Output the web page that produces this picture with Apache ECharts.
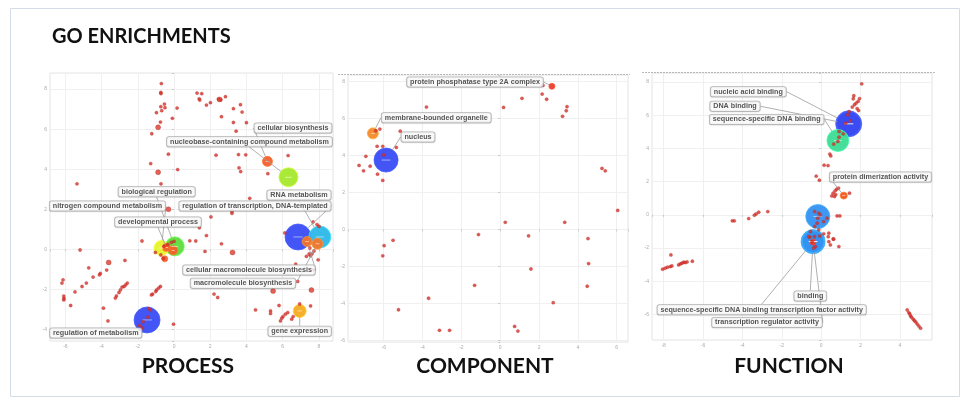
<!DOCTYPE html>
<html>
<head>
<meta charset="utf-8">
<script src="https://cdn.jsdelivr.net/npm/echarts@6.0.0/dist/echarts.min.js"></script>
<style>
  html, body { margin: 0; padding: 0; background: #fff; }
  #main { width: 961px; height: 399px; }
</style>
</head>
<body>
<div id="main"></div>
<script>
// ---- data: PROCESS ----
const processDots = [
  [-0.70, 8.27], [-0.73, 7.83], [-0.72, 7.77], [-0.97, 6.82], [-0.73, 7.12], [-0.53, 7.25], [-0.50, 7.07], [-0.68, 6.92],
  [0.17, 7.05], [-0.09, 6.54], [-0.75, 6.35], [-1.23, 5.77],
  [1.27, 7.80], [1.53, 7.77], [1.39, 7.51], [1.42, 7.45], [2.01, 7.32], [1.79, 7.20], [2.45, 7.50], [2.58, 7.46],
  [2.84, 7.62], [3.67, 7.22], [3.28, 7.02], [3.76, 6.85], [2.62, 6.62], [3.28, 6.33], [4.0, 6.32], [3.43, 5.90],
  [-0.31, 4.75], [2.32, 4.70], [3.56, 4.73], [3.96, 4.72], [-1.29, 4.28], [0.20, 3.98], [3.59, 4.07], [3.68, 3.88],
  [6.30, 4.68], [5.18, 3.78], [-5.36, 3.27], [-0.72, 3.27], [4.18, 2.55],
  [3.2, 1.9], [3.2, 1.8], [2.04, 1.62], [1.40, 1.08], [1.79, 0.69], [0.87, 0.43], [1.2, 0.42], [-1.77, 0.42],
  [2.62, 0.28], [1.71, -0.1], [-5.19, -0.03],
  [-1.03, -0.15], [-0.73, -0.28], [-0.6, -0.45], [-0.35, 0.25], [-0.15, 0.35], [0.0, 0.4], [-0.55, 0.15],
  [-2.71, -0.55], [-4.71, -0.92], [-3.72, -1.03], [-4.07, -1.2], [-4.12, -1.27], [-4.47, -1.38], [-4.84, -1.68],
  [-5.08, -1.85], [-5.47, -2.12], [-6.13, -1.52], [-6.19, -1.68], [-6.09, -2.33], [-6.08, -2.45], [-6.09, -2.52], [-5.71, -2.8],
  [-2.58, -1.68], [-2.67, -1.77], [-2.76, -1.85], [-2.87, -1.88], [-2.96, -2.02], [-3.04, -2.15], [-3.18, -2.32], [-3.24, -2.43],
  [-0.75, -1.85], [-0.85, -1.93], [-0.96, -2.02], [-1.01, -2.1], [-1.18, -2.23], [-1.25, -2.27],
  [-3.9, -2.93], [-3.65, -3.57], [-0.03, -3.73], [2.21, -2.23], [2.41, -2.4],
  [-1.3, -3.02], [-1.4, -2.95], [-1.44, -3.38], [-1.71, -3.6], [-1.9, -3.8], [-1.75, -3.93],
  [6.12, 0.82], [7.68, 1.37], [7.9, 1.24], [8.01, 1.15], [7.73, -0.08], [7.62, -0.22], [7.54, -0.32], [7.5, 0.07],
  [7.46, -0.23], [7.31, -0.35], [7.96, -0.52], [6.72, -0.73], [7.72, -1.02], [6.83, -1.6],
  [4.5, -3.02], [5.33, -3.07], [5.33, -3.2], [5.8, -2.8], [6.28, -3.15], [6.15, -3.23], [6.02, -3.35], [5.95, -3.43],
  [5.88, -3.57], [6.5, -3.48], [6.58, -3.35], [7.54, -2.82], [6.94, -2.72]
];
const processDotsLarge = [[-0.88, 6.09], [-0.88, 3.85], [2.52, 7.48], [-0.31, 2.0], [3.23, -0.15], [-3.61, -0.65], [7.59, -2.03], [5.47, -2.08]];
const processTerms = [
  'cellular biosynthesis', 'nucleobase-containing compound metabolism', 'RNA metabolism',
  'regulation of transcription, DNA-templated', 'cellular macromolecule biosynthesis', 'macromolecule biosynthesis',
  'nitrogen compound metabolism', 'biological regulation', 'developmental process', '', '',
  'regulation of metabolism', 'gene expression'
];
// x, y, term size
const processBubbles = [
  [5.16, 4.39, 21], [6.32, 3.6, 75], [8.05, 0.62, 100], [6.85, 0.62, 140], [7.35, 0.39, 21], [7.92, 0.28, 25],
  [-0.70, 0.07, 46], [0.04, 0.15, 75], [-0.42, 0.1, 13], [-0.05, -0.05, 17], [-0.51, -0.47, 7.4],
  [-1.49, -3.52, 140], [6.94, -3.07, 35]
];

// ---- data: COMPONENT ----
const componentDots = [
  [2.2, 7.78], [2.16, 7.31], [2.39, 7.03], [1.12, 7.08], [0.17, 6.59], [-3.8, 6.61], [3.44, 6.63], [3.4, 6.41], [3.21, 6.11],
  [5.24, 3.3], [5.41, 3.17], [6.05, 1.03], [0.26, 0.39], [3.32, 0.39], [-6.41, 5.33], [-6.2, 5.42], [-5.15, 5.31],
  [-6.0, 4.03], [-6.34, 4.49], [-6.05, 4.49], [-5.35, 4.43], [-6.92, 3.95], [-7.27, 3.46], [-7.04, 3.17], [-6.7, 3.42],
  [-6.32, 2.99], [-6.05, 2.65], [-1.12, -0.27], [1.46, -0.34], [4.52, -0.49], [-5.52, -0.58], [-5.98, -0.87], [-6.05, -1.42],
  [4.55, -1.84], [1.58, -2.13], [-1.32, -3.01], [4.48, -3.06], [-3.69, -3.71], [2.73, -3.95], [-5.24, -4.33],
  [-3.13, -5.44], [-2.61, -5.44], [0.74, -5.23], [0.91, -5.48]
];
const componentTerms = ['protein phosphatase type 2A complex', 'membrane-bounded organelle', 'nucleus'];
const componentBubbles = [[2.66, 7.73, 7.4], [-6.56, 5.19, 25], [-5.88, 3.75, 120]];

// ---- data: FUNCTION ----
const functionDots = [
  [2.06, 7.89], [1.66, 7.17], [1.63, 6.99], [1.95, 7.0], [1.88, 6.83], [1.78, 6.73], [1.69, 6.63], [1.58, 6.49], [1.83, 6.4],
  [1.9, 6.28], [1.42, 6.22], [1.35, 6.02], [1.49, 5.66], [1.24, 5.52], [0.91, 5.02], [1.12, 4.88], [0.91, 4.68], [0.64, 4.26],
  [0.85, 4.42], [0.44, 3.66], [0.49, 3.55], [0.15, 2.99], [0.35, 2.97], [-0.25, 2.33], [-0.09, 2.09], [0.88, 1.61], [0.79, 1.55],
  [0.71, 1.45], [0.61, 1.31], [0.54, 1.14], [0.68, 1.1], [0.74, 1.22], [1.44, 1.31], [0.81, -0.06], [0.95, -0.06],
  [-2.71, 0.2], [-3.17, 0.16], [-3.3, 0.06], [-3.39, -0.02], [-3.68, -0.22], [-4.51, -0.36], [-4.41, -0.36],
  [-0.33, 0.2], [-0.12, 0.1], [-0.04, 0.0], [-0.17, -0.2], [-0.2, -0.5], [0.13, -0.4], [0.3, -0.2], [-0.33, -0.7],
  [-0.12, -0.9], [0.39, -1.1], [-0.54, -1.0],
  [-0.58, -1.34], [-0.34, -1.31], [-0.07, -1.27], [0.13, -1.14], [0.39, -1.61], [0.47, -1.81], [0.61, -1.45], [0.36, -1.31],
  [0.9, -1.91], [-0.29, -1.91], [-0.46, -1.61], [-0.63, -1.31], [-0.38, -2.0], [0.64, -1.46],
  [-7.63, -2.41], [-8.05, -3.27], [-7.92, -3.21], [-7.8, -3.15], [-7.66, -3.11], [-7.58, -3.07], [-7.24, -3.01], [-7.15, -2.95],
  [-7.07, -2.91], [-6.98, -2.85], [-6.9, -2.87], [-6.81, -2.83], [-6.54, -2.79],
  [4.37, -5.72], [4.45, -5.88], [4.5, -5.96], [4.54, -6.08], [4.59, -6.16], [4.68, -6.28], [4.74, -6.37], [4.81, -6.45],
  [4.88, -6.57], [4.96, -6.69], [5.05, -6.82]
];
const functionTerms = [
  'nucleic acid binding', 'DNA binding', 'sequence-specific DNA binding', 'protein dimerization activity', '',
  'binding', 'sequence-specific DNA binding transcription factor activity', 'transcription regulator activity', ''
];
const functionBubbles = [
  [1.4, 5.48, 140], [1.4, 5.48, 120], [0.85, 4.48, 100], [1.15, 1.16, 10], [-0.17, -0.1, 120],
  [-0.41, -1.61, 120], [-0.41, -1.61, 110], [-0.41, -1.61, 100], [-0.41, -1.64, 7.4]
];

// ---- styles / layout ----
const processColors = ['#f4602a', '#a5e82c', '#2cb8e8', '#3a4cf4', '#f4762a', '#f4762a', '#e6f22c', '#5ddc3e', '#f4602a', '#f4602a', '#ef5a2c', '#3a4cf4', '#f5aa22'];
const componentColors = ['#e8402a', '#f58a2c', '#3a4cf4'];
const functionColors = ['#3a4cf0', '#3a4cf0', '#3ddc94', '#f0561e', '#3492f2', '#3492f2', '#3492f2', '#3492f2', '#e8382a'];
// label box centres (px)
const processLabelAt = [[293, 128], [249.5, 141.7], [299, 195], [255, 206], [249, 270], [243, 283.3], [107.5, 206], [156.7, 191.7], [158, 222], null, null, [95.8, 333], [299.7, 331.3]];
const componentLabelAt = [[475, 82], [436.3, 117.7], [418, 137]];
const functionLabelAt = [[748.3, 91.7], [735, 106.3], [766.7, 119.5], [880.5, 177], null, [810.3, 296], [761.7, 309.7], [767, 322.5], null];

const panels = [
  { grid: { left: 50, top: 73, width: 283, height: 268 }, x: [-6.85, 8.78], y: [-4.57, 8.8] },
  { grid: { left: 348, top: 75, width: 280, height: 267 }, x: [-7.84, 6.58], y: [-6.07, 8.34] },
  { grid: { left: 652, top: 73, width: 280, height: 267 }, x: [-8.59, 5.63], y: [-7.53, 8.54] }
];

const bubbleSize = (v) => 2.2 * Math.sqrt(v[2]);
const evenLabel = (v) => {
  const r = Math.round(v);
  return Math.abs(r - v) < 1e-6 && r % 2 === 0 ? String(r) : '';
};

function makeAxis(i, ext) {
  return {
    type: 'value', gridIndex: i, min: ext[0], max: ext[1], splitNumber: 7,
    axisLine: { show: false },
    axisTick: { show: true, length: 2, lineStyle: { color: '#c8c8c8' } },
    axisLabel: { fontSize: 5, color: '#aaa', margin: 3, formatter: evenLabel },
    splitLine: { show: true, lineStyle: { color: '#f0f0f0', width: 1 } }
  };
}

function panelSeries(i, bubbles, colors, terms, labelAt, dots, dotsLarge) {
  const order = bubbles.map((b, k) => k).sort((a, b) => bubbles[b][2] - bubbles[a][2]);
  const labeled = bubbles.map((b, k) => k).filter((k) => terms[k]);
  return [
    {
      type: 'scatter', xAxisIndex: i, yAxisIndex: i, z: 2, silent: true,
      symbolSize: bubbleSize,
      data: order.map((k) => ({
        value: bubbles[k],
        itemStyle: { color: colors[k], borderColor: echarts.color.lift(colors[k], -0.25), borderWidth: 0.8, opacity: 0.95 }
      }))
    },
    {
      // small white dash at each bubble centre
      type: 'scatter', xAxisIndex: i, yAxisIndex: i, z: 2, silent: true,
      symbol: 'rect',
      symbolSize: (v) => [Math.max(3, 0.8 * Math.sqrt(v[2])), 0.8],
      itemStyle: { color: 'rgba(255,255,255,0.8)' },
      data: bubbles.filter((b) => b[2] >= 10)
    },
    {
      type: 'scatter', xAxisIndex: i, yAxisIndex: i, z: 3, silent: true,
      symbolSize: 3.3, data: dots,
      itemStyle: { color: '#d8312a', borderColor: '#a51e18', borderWidth: 0.3 }
    },
    {
      type: 'scatter', xAxisIndex: i, yAxisIndex: i, z: 3, silent: true,
      symbolSize: 5, data: dotsLarge,
      itemStyle: { color: '#dd3a2c', borderColor: '#a51e18', borderWidth: 0.4 }
    },
    {
      // transparent copies of the bubbles that carry the term labels
      type: 'scatter', xAxisIndex: i, yAxisIndex: i, z: 5, silent: true,
      symbolSize: bubbleSize,
      itemStyle: { color: 'rgba(0,0,0,0)' },
      data: labeled.map((k) => ({ name: terms[k], value: bubbles[k] })),
      label: {
        show: true, formatter: '{b}',
        fontFamily: 'Liberation Sans, Arial, sans-serif', fontWeight: 'bold', fontSize: 7.2, color: '#2b2b2b',
        backgroundColor: '#fff', borderColor: '#a8a8a8', borderWidth: 0.8, borderRadius: 2,
        padding: [1.4, 3, 1, 3],
        shadowColor: 'rgba(0,0,0,0.15)', shadowBlur: 1.5, shadowOffsetY: 0.5
      },
      labelLine: { show: true, lineStyle: { color: '#9c9c9c', width: 0.8 } },
      labelLayout: (p) => {
        const pos = labelAt[labeled[p.dataIndex]];
        return { x: pos[0], y: pos[1], align: 'center', verticalAlign: 'middle', hideOverlap: false };
      }
    }
  ];
}

const chart = echarts.init(document.getElementById('main'), null, { renderer: 'canvas' });

const titleFont = 'bold 21px Lato, "Open Sans", sans-serif';
chart.setOption({
  backgroundColor: '#fff',
  animation: false,
  grid: panels.map((p) => Object.assign({ show: true, borderColor: '#e4e4e4', borderWidth: 1, backgroundColor: '#fff' }, p.grid)),
  xAxis: panels.map((p, i) => makeAxis(i, p.x)),
  yAxis: panels.map((p, i) => makeAxis(i, p.y)),
  series: [].concat(
    panelSeries(0, processBubbles, processColors, processTerms, processLabelAt, processDots, processDotsLarge),
    panelSeries(1, componentBubbles, componentColors, componentTerms, componentLabelAt, componentDots, []),
    panelSeries(2, functionBubbles, functionColors, functionTerms, functionLabelAt, functionDots, [])
  ),
  graphic: [
    { type: 'rect', shape: { x: 10.5, y: 8.5, width: 949, height: 388 }, style: { fill: 'none', stroke: '#d3dde8', lineWidth: 1 }, z: -1 },
    { type: 'line', shape: { x1: 338, y1: 74.5, x2: 630, y2: 74.5 }, style: { stroke: '#b9b9b9', lineDash: [2, 1], lineWidth: 1 } },
    { type: 'line', shape: { x1: 642, y1: 72.5, x2: 935, y2: 72.5 }, style: { stroke: '#b9b9b9', lineDash: [2, 1], lineWidth: 1 } },
    { type: 'text', left: 52, top: 27, style: { text: 'GO ENRICHMENTS', font: 'bold 20px Lato, "Open Sans", sans-serif', fill: '#111' } },
    { type: 'text', x: 188, y: 366, style: { text: 'PROCESS', font: titleFont, fill: '#111', align: 'center', verticalAlign: 'middle' } },
    { type: 'text', x: 485, y: 366, style: { text: 'COMPONENT', font: titleFont, fill: '#111', align: 'center', verticalAlign: 'middle' } },
    { type: 'text', x: 789, y: 366, style: { text: 'FUNCTION', font: titleFont, fill: '#111', align: 'center', verticalAlign: 'middle' } }
  ]
});
</script>
</body>
</html>
